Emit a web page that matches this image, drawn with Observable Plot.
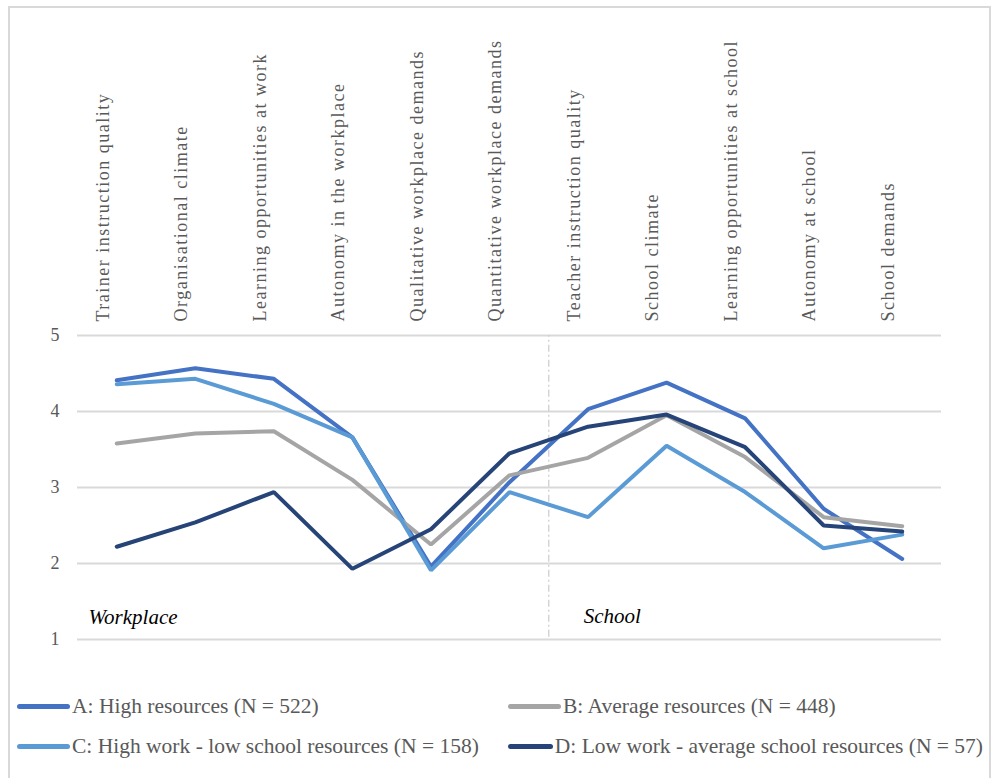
<!DOCTYPE html>
<html>
<head>
<meta charset="utf-8">
<script src="https://cdn.jsdelivr.net/npm/d3@7"></script>
<script src="https://cdn.jsdelivr.net/npm/@observablehq/plot@0.6"></script>
<style>
  html, body { margin: 0; padding: 0; background: #fff; }
  body { width: 991px; height: 778px; position: relative; overflow: hidden; font-family: "Liberation Serif", "Times New Roman", serif; }
  #frame { position: absolute; left: 8px; top: 6px; width: 983px; height: 820px; box-sizing: border-box; border: 2px solid #d9d9d9; pointer-events: none; }
  #chart { position: absolute; left: 0; top: 0; }
  #chart g[aria-label="x-axis tick label"] text { letter-spacing: 1.5px; }
  #legend { position: absolute; left: 17px; top: 686px; display: grid; grid-template-columns: 491px 475px; grid-auto-rows: 40px; }
  .item { display: flex; align-items: center; font-size: 21.5px; color: #595959; white-space: nowrap; }
  .sw { width: 53px; height: 5px; border-radius: 2.5px; margin-right: 2px; }
</style>
</head>
<body>
<div id="chart"></div>
<div id="legend"></div>
<div id="frame"></div>
<script>
const categories = [
  "Trainer instruction quality",
  "Organisational climate",
  "Learning opportunities at work",
  "Autonomy in the workplace",
  "Qualitative workplace demands",
  "Quantitative workplace demands",
  "Teacher instruction quality",
  "School climate",
  "Learning opportunities at school",
  "Autonomy at school",
  "School demands"
];
const workplaceCount = 6; // first six categories belong to the workplace
const sectionLabels = ["Workplace", "School"];
const seriesNames = [
  "A: High resources (N = 522)",
  "B: Average resources (N = 448)",
  "C: High work - low school resources (N = 158)",
  "D: Low work - average school resources (N = 57)"
];
const valuesA = [4.41, 4.57, 4.43, 3.66, 1.96, 3.07, 4.03, 4.38, 3.91, 2.72, 2.06];
const valuesB = [3.58, 3.71, 3.74, 3.10, 2.25, 3.16, 3.39, 3.95, 3.40, 2.61, 2.49];
const valuesC = [4.36, 4.43, 4.10, 3.66, 1.91, 2.94, 2.61, 3.55, 2.94, 2.20, 2.38];
const valuesD = [2.22, 2.54, 2.94, 1.93, 2.45, 3.45, 3.80, 3.96, 3.53, 2.50, 2.42];
const seriesColors = ["#4472C4", "#A5A5A5", "#5B9BD5", "#264478"];
const yTicks = [1, 2, 3, 4, 5];

const allValues = [valuesA, valuesB, valuesC, valuesD];
const rows = [];
allValues.forEach((vals, s) => vals.forEach((v, i) => rows.push({series: seriesNames[s], i, value: v})));
const idx = categories.map((_, i) => i);
const divider = workplaceCount - 0.5;
const sections = [
  {x: -0.5, label: sectionLabels[0]},
  {x: divider, label: sectionLabels[1]}
];

const chart = Plot.plot({
  width: 991,
  height: 680,
  marginTop: 335,
  marginLeft: 77,
  marginRight: 50,
  marginBottom: 41,
  style: {fontFamily: '"Liberation Serif", "Times New Roman", serif', background: "transparent"},
  x: {type: "linear", domain: [-0.5, categories.length - 0.5], label: null},
  y: {domain: [1, 5], label: null},
  color: {domain: seriesNames, range: seriesColors},
  marks: [
    Plot.gridY(yTicks, {stroke: "#d9d9d9", strokeOpacity: 1, strokeWidth: 2}),
    Plot.ruleX([divider], {y1: 1.03, y2: 5, stroke: "#cfcfcf", strokeWidth: 1.3, strokeDasharray: "7,3,2,3"}),
    Plot.axisY(yTicks, {tickSize: 0, tickPadding: 18, fontSize: 18, fill: "#595959", tickFormat: d => d, label: null}),
    Plot.axisX(idx, {anchor: "top", tickSize: 0, tickRotate: -90, tickPadding: 14, fontSize: 18, fill: "#595959", tickFormat: i => categories[i], dx: -14, label: null}),
    Plot.line(rows, {x: "i", y: "value", z: "series", stroke: "series", strokeWidth: 4, strokeLinejoin: "miter", strokeLinecap: "round"}),
    Plot.text(sections.slice(0, 1), {x: "x", y: 1.29, text: "label", textAnchor: "start", dx: 11, fontSize: 21, fontStyle: "italic", fill: "#000"}),
    Plot.text(sections.slice(1), {x: "x", y: 1.30, text: "label", textAnchor: "start", dx: 35, fontSize: 21, fontStyle: "italic", fill: "#000"})
  ]
});
document.getElementById("chart").appendChild(chart);

const legend = d3.select("#legend");
seriesNames.forEach((name, s) => {
  const it = legend.append("div").attr("class", "item");
  it.append("div").attr("class", "sw").style("background", seriesColors[s]);
  it.append("span").text(name);
});
</script>
</body>
</html>
